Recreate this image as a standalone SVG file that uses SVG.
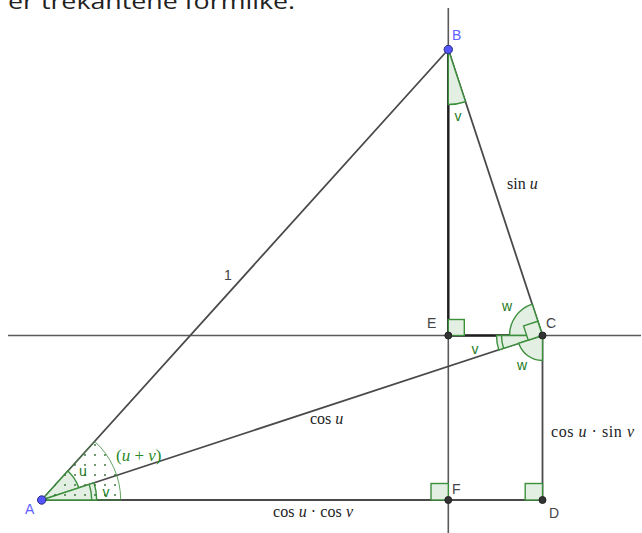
<svg xmlns="http://www.w3.org/2000/svg" width="642" height="533" viewBox="0 0 642 533">
<style>
.ln{stroke:#4a4a4a;stroke-width:1.8;fill:none;stroke-linecap:round}
.thin{stroke:#5a5a5a;stroke-width:1.6;fill:none}
.bold{stroke:#1e1e1e;stroke-width:2.4;fill:none}
.ang{fill:#e4efe4;stroke:#3c8f3c;stroke-width:1.4}
.arc{fill:none;stroke:#3c8f3c;stroke-width:1.4}
.al{font-family:"Liberation Sans",Arial,sans-serif;font-size:14px;fill:#1a7a1a}
.pl{font-family:"Liberation Sans",Arial,sans-serif;font-size:14px;fill:#444}
.bl{font-family:"Liberation Sans",Arial,sans-serif;font-size:14px;fill:#6060ff}
.m{font-family:"Liberation Serif","Times New Roman",serif;font-size:16px;fill:#222}
.pt{fill:#333;stroke:#222;stroke-width:1}
.ptb{fill:#5555ff;stroke:#2a2a80;stroke-width:1}
</style>
<defs>
<pattern id="dots" width="10" height="10" patternUnits="userSpaceOnUse">
<circle cx="5" cy="5" r="0.9" fill="#2a6a2a"/>
</pattern>
</defs>
<rect width="642" height="533" fill="#fff"/>
<text x="8" y="9" font-family="'Open Sans','Noto Sans',sans-serif" font-size="22" fill="#222" textLength="287" lengthAdjust="spacingAndGlyphs">er trekantene formlike.</text>

<g id="connectors">
<line class="thin" x1="8" y1="335.5" x2="641" y2="335.5"/>
<line class="thin" x1="448.3" y1="8" x2="448.3" y2="533"/>
<line class="ln" x1="41.7" y1="500" x2="542.5" y2="500"/>
<line class="ln" x1="542.5" y1="335.5" x2="542.5" y2="500"/>
<line class="ln" x1="41.7" y1="500" x2="448.3" y2="49.5"/>
<line class="ln" x1="448.3" y1="49.5" x2="542.5" y2="335.5"/>
<line class="ln" x1="41.7" y1="500" x2="542.5" y2="335.5"/>
<line class="bold" x1="448.3" y1="49.5" x2="448.3" y2="335.5"/>
<line class="bold" x1="448.3" y1="335.5" x2="542.5" y2="335.5"/>
</g>

<g id="angles">
<path d="M41.7,500 L120.7,500 A79,79 0 0 0 94.63,441.38 Z" fill="url(#dots)" stroke="#3c8f3c" stroke-width="1" stroke-opacity="0.8"/>
<path class="ang" d="M41.7,500 L78.75,487.83 A39,39 0 0 0 67.83,471.06 Z"/>
<path class="ang" d="M41.7,500 L96.7,500 A55,55 0 0 0 93.95,482.84 Z"/>
<path d="M41.7,500 L96.7,500 A55,55 0 0 0 93.95,482.84 Z" fill="url(#dots)"/>
<path d="M41.7,500 L78.75,487.83 A39,39 0 0 0 67.83,471.06 Z" fill="url(#dots)"/>
<path class="arc" d="M91.7,500 A50,50 0 0 0 89.2,484.4"/>
<path class="ang" d="M448.3,49.5 L448.3,104.5 A55,55 0 0 0 465.5,101.75 Z"/>
<path class="ang" d="M542.5,335.5 L532.2,304.15 A33,33 0 0 0 509.5,335.5 Z"/>
<path class="ang" d="M542.5,335.5 L496.5,335.5 A46,46 0 0 0 498.8,349.9 Z"/>
<path class="arc" d="M501.5,335.5 A41,41 0 0 0 503.55,348.29"/>
<path class="ang" d="M542.5,335.5 L518.75,343.3 A25,25 0 0 0 542.5,360.5 Z"/>
<path class="ang" d="M528.25,340.2 L523.56,325.95 L537.8,321.25 L542.5,335.5 Z"/>
<rect class="ang" x="448.3" y="319.5" width="16" height="16"/>
<rect class="ang" x="431" y="483.5" width="17.3" height="16.5"/>
<rect class="ang" x="525.2" y="483.5" width="17.3" height="16.5"/>
</g>

<g id="angle-labels">
<text class="al" x="83" y="476" text-anchor="middle">u</text>
<text class="al" x="106" y="497" text-anchor="middle">v</text>
<text x="116" y="461" font-family="'Liberation Serif',serif" font-size="17" fill="#2a8a2a">(<tspan font-style="italic">u</tspan> + <tspan font-style="italic">v</tspan>)</text>
<text class="al" x="458" y="121" text-anchor="middle">v</text>
<text class="al" x="475" y="354" text-anchor="middle">v</text>
<text class="al" x="507" y="311" text-anchor="middle">w</text>
<text class="al" x="522" y="370" text-anchor="middle">w</text>
</g>

<g id="edge-labels">
<text class="pl" x="228" y="280" text-anchor="middle">1</text>
<text class="m" x="507" y="189">sin <tspan font-style="italic">u</tspan></text>
<text class="m" x="310" y="424">cos <tspan font-style="italic">u</tspan></text>
<text class="m" x="551" y="437" textLength="83">cos <tspan font-style="italic">u</tspan> · sin <tspan font-style="italic">v</tspan></text>
<text class="m" x="273" y="517" textLength="80">cos <tspan font-style="italic">u</tspan> · cos <tspan font-style="italic">v</tspan></text>
</g>

<g id="A"><circle class="ptb" cx="41.7" cy="500" r="4.2"/><text class="bl" x="25" y="514">A</text></g>
<g id="B"><circle class="ptb" cx="448.3" cy="49.5" r="4.2"/><text class="bl" x="452" y="40">B</text></g>
<g id="C"><circle class="pt" cx="542.5" cy="335.5" r="3.5"/><text class="pl" x="546" y="328">C</text></g>
<g id="D"><circle class="pt" cx="542.5" cy="500" r="3.5"/><text class="pl" x="549" y="518">D</text></g>
<g id="E"><circle class="pt" cx="448.3" cy="335.5" r="3.5"/><text class="pl" x="427" y="328">E</text></g>
<g id="F"><circle class="pt" cx="448.3" cy="500" r="3.5"/><text class="pl" x="452" y="494">F</text></g>
</svg>
